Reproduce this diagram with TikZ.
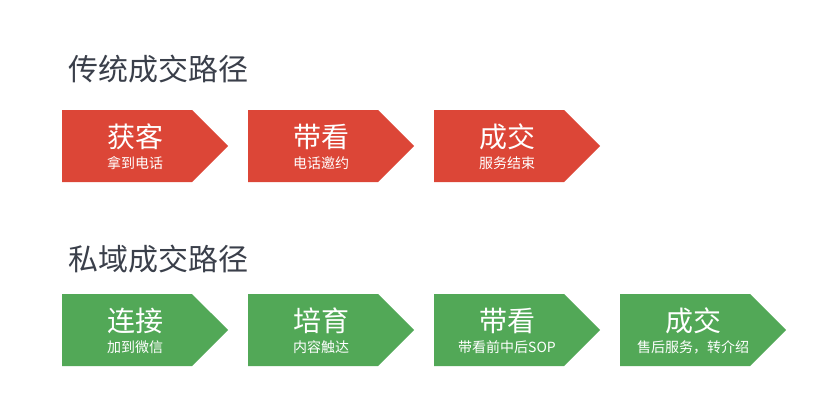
\documentclass[tikz,border=0pt]{standalone}
\usepackage{fontspec}
\setmainfont{Noto Sans CJK SC}
\usepackage{tikz}
\usetikzlibrary{shapes.symbols}
\definecolor{redbox}{HTML}{DC4637}
\definecolor{greenbox}{HTML}{52A857}
\definecolor{titlegray}{HTML}{3A3F4A}
\tikzstyle{stage}=[signal,signal to=east,signal pointer angle=90,minimum width=166pt,minimum height=72pt,inner sep=0pt,draw=none]
\tikzstyle{stager}=[stage,fill=redbox]
\tikzstyle{stageg}=[stage,fill=greenbox]
\tikzstyle{ttl}=[anchor=west,inner sep=0pt,text=titlegray,font=\fontsize{30}{32}\selectfont]
\tikzstyle{big}=[inner sep=0pt,text=white,font=\fontsize{28}{30}\selectfont]
\tikzstyle{small}=[inner sep=0pt,text=white,font=\fontsize{14}{16}\selectfont]

\begin{document}
\begin{tikzpicture}[x=1pt,y=-1pt]
    \useasboundingbox (0,0) rectangle (825,412);
    % traditional path
    \node[ttl] (T1) at (68,69) {传统成交路径};
    \node[stager] (A1) at (127,146) {};
    \node[stager] (A2) at (313,146) {};
    \node[stager] (A3) at (499,146) {};
    \node[big] (A1m) at (135,137) {获客};
    \node[small] (A1s) at (135,163) {拿到电话};
    \node[big] (A2m) at (321,137) {带看};
    \node[small] (A2s) at (321,163) {电话邀约};
    \node[big] (A3m) at (507,137) {成交};
    \node[small] (A3s) at (507,163) {服务结束};
    % private domain path
    \node[ttl] (T2) at (68,259) {私域成交路径};
    \node[stageg] (B1) at (127,330) {};
    \node[stageg] (B2) at (313,330) {};
    \node[stageg] (B3) at (499,330) {};
    \node[stageg] (B4) at (685,330) {};
    \node[big] (B1m) at (135,321) {连接};
    \node[small] (B1s) at (135,347) {加到微信};
    \node[big] (B2m) at (321,321) {培育};
    \node[small] (B2s) at (321,347) {内容触达};
    \node[big] (B3m) at (507,321) {带看};
    \node[small] (B3s) at (507,347) {带看前中后SOP};
    \node[big] (B4m) at (693,321) {成交};
    \node[small] (B4s) at (693,347) {售后服务，转介绍};
\end{tikzpicture}
\end{document}
